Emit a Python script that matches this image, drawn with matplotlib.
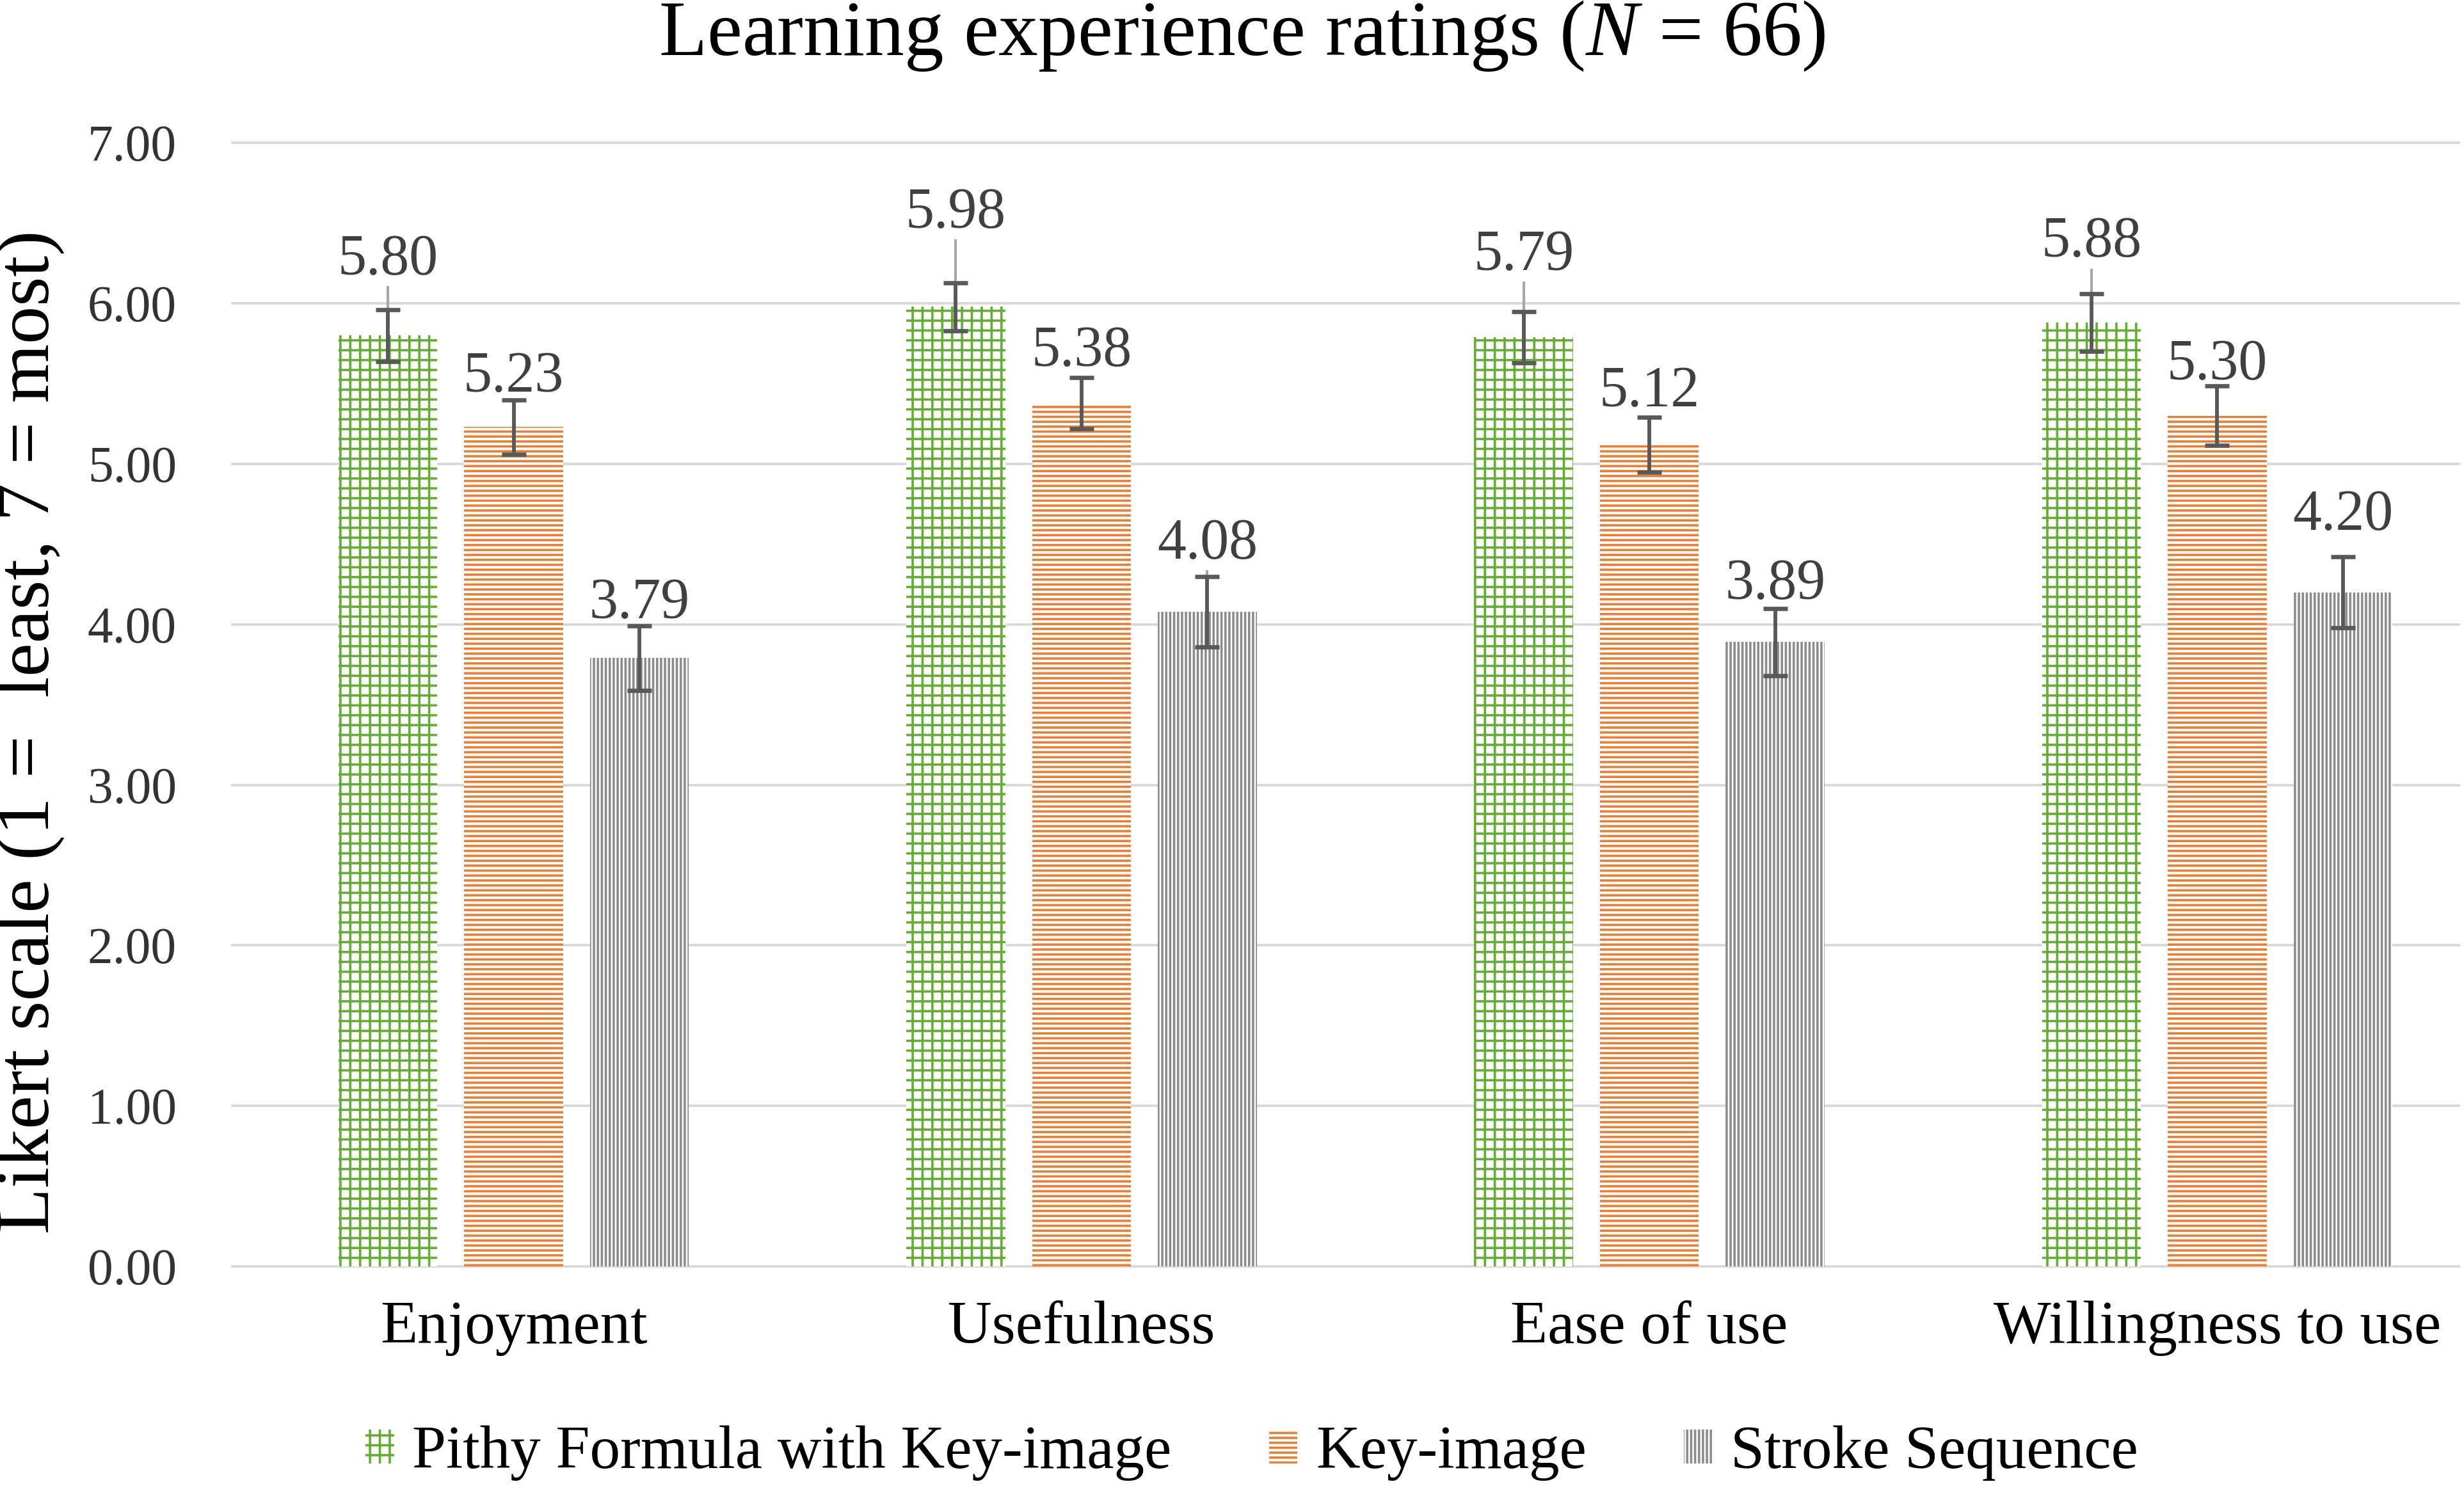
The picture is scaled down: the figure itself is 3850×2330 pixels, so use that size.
import numpy as np
import matplotlib
matplotlib.use("Agg")
import matplotlib.pyplot as plt

# Datos
categories = ["Enjoyment", "Usefulness", "Ease of use", "Willingness to use"]
series = ["Pithy Formula with Key-image", "Key-image", "Stroke Sequence"]
pithy = [5.80, 5.98, 5.79, 5.88]
keyimg = [5.23, 5.38, 5.12, 5.30]
stroke = [3.79, 4.08, 3.89, 4.20]
pithy_err = [0.16, 0.15, 0.16, 0.18]
keyimg_err = [0.17, 0.16, 0.17, 0.185]
stroke_err = [0.20, 0.22, 0.21, 0.22]
yticks = [0, 1, 2, 3, 4, 5, 6, 7]

# Estilo
colors = ["#62AE33", "#ED7D31", "#8C8C8C"]
hatches = ["++", "----", "|||||"]
# distancia de la etiqueta sobre la barra de error (unidades del eje)
label_pad = [[0.22, 0.34, 0.26, 0.23],
             [0.05, 0.07, 0.07, 0.04],
             [0.05, 0.11, 0.06, 0.17]]
leaders = [[True, True, True, True],
           [False, False, False, False],
           [False, True, False, False]]

plt.rcParams["font.family"] = ["Liberation Serif", "DejaVu Serif"]
plt.rcParams["mathtext.fontset"] = "custom"
plt.rcParams["mathtext.rm"] = "Liberation Serif"
plt.rcParams["mathtext.it"] = "Liberation Serif:italic"
plt.rcParams["hatch.linewidth"] = 1.4

dpi = 185
fig = plt.figure(figsize=(3850 / dpi, 2330 / dpi), dpi=dpi)
ax = fig.add_axes([0.0944, 0.1507, 0.9036, 0.7534])

x = np.arange(len(categories))
width = 0.174
step = 0.2215
values = [pithy, keyimg, stroke]
errors = [pithy_err, keyimg_err, stroke_err]

handles = []
for i, (vals, errs) in enumerate(zip(values, errors)):
    pos = x + (i - 1) * step
    vals = np.array(vals)
    errs = np.array(errs)
    b = ax.bar(pos, vals, width, facecolor="white", edgecolor=colors[i],
               linewidth=0, hatch=hatches[i], label=series[i], zorder=2)
    handles.append(b)
    ax.errorbar(pos, vals, yerr=errs, fmt="none", ecolor="#595959",
                elinewidth=2.3, capsize=7.5, capthick=2.6, zorder=4)
    ytxt = vals + errs + np.array(label_pad[i])
    for j in range(len(categories)):
        if leaders[i][j]:
            ax.plot([pos[j], pos[j]], [vals[j], ytxt[j] - 0.08],
                    color="#A6A6A6", linewidth=1.6, zorder=3)
        ax.text(pos[j], ytxt[j], f"{vals[j]:.2f}", ha="center",
                va="baseline", fontsize=35, color="#404040", zorder=5)

ax.set_xlim(-0.495, 3.426)
ax.set_ylim(0, 7)
ax.set_yticks(yticks)
ax.set_yticklabels([f"{v:.2f}" for v in yticks], fontsize=31, color="#333333")
ax.set_xticks(x)
ax.set_xticklabels(categories, fontsize=37, color="black")
ax.tick_params(axis="y", length=0, pad=34)
ax.tick_params(axis="x", length=0, pad=21)
for s in ax.spines.values():
    s.set_visible(False)
ax.yaxis.grid(True, color="#D9D9D9", linewidth=1.5, clip_on=False)
ax.set_axisbelow(True)

ax.set_ylabel("Likert scale (1 =  least, 7 = most)", fontsize=46, color="black")
ax.yaxis.set_label_coords(-0.0755, 0.476)

fig.text(0.504, 1 - 23 / 949, "Learning experience ratings ($N$ = 66)",
         ha="center", va="center", fontsize=48, color="black")

fig.legend(handles, series, loc="center", bbox_to_anchor=(0.508, 0.0253),
           ncol=3, frameon=False, fontsize=37, handlelength=0.47,
           handleheight=0.47, handletextpad=0.3, columnspacing=1.6)

fig.savefig("out.png", dpi=dpi)
